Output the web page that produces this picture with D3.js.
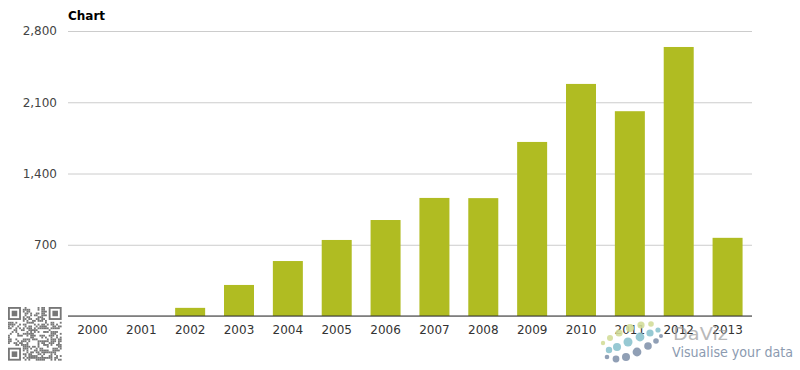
<!DOCTYPE html>
<html>
<head>
<meta charset="utf-8">
<script src="https://cdn.jsdelivr.net/npm/d3@7"></script>
<style>
  body { margin: 0; background: #fff; }
  svg { display: block; }
  svg text { font-family: "DejaVu Sans", sans-serif; }
</style>
</head>
<body>
<svg id="chart" width="800" height="370"></svg>
<script>
const years = ['2000', '2001', '2002', '2003', '2004', '2005', '2006', '2007',
  '2008', '2009', '2010', '2011', '2012', '2013'];
const values = [0, 0, 80, 305, 540, 747, 943, 1160, 1158, 1710, 2280, 2012, 2643, 768];
const yTicks = [0, 700, 1400, 2100, 2800];

const svg = d3.select('#chart');
const margin = { left: 68, right: 48, top: 31, bottom: 54 };
const W = 800, H = 370;

const x = d3.scaleBand()
  .domain(years)
  .range([margin.left, W - margin.right])
  .paddingInner(0.386)
  .paddingOuter(0.193);

const y = d3.scaleLinear()
  .domain([0, 2800])
  .range([H - margin.bottom, margin.top]);

// grid + y labels
const yAxis = svg.append('g')
  .attr('transform', `translate(${margin.left},0)`)
  .call(d3.axisLeft(y).tickValues(yTicks).tickSize(-(W - margin.left - margin.right))
    .tickPadding(11).tickFormat(d3.format(',')));
yAxis.attr('font-family', null);
yAxis.select('.domain').remove();
yAxis.selectAll('.tick line').attr('stroke', '#cccccc');
yAxis.selectAll('.tick text').attr('fill', '#444').style('font-size', '12px');
yAxis.selectAll('.tick').filter(d => d === 0).select('text').remove();

// bars
svg.append('g').selectAll('rect')
  .data(years)
  .join('rect')
  .attr('x', d => x(d))
  .attr('width', x.bandwidth())
  .attr('y', (d, i) => y(values[i]))
  .attr('height', (d, i) => y(0) - y(values[i]))
  .attr('fill', '#b0bc22');

// x axis
const xAxis = svg.append('g')
  .attr('transform', `translate(0,${y(0)})`)
  .call(d3.axisBottom(x).tickSize(0).tickPadding(9));
xAxis.attr('font-family', null);
xAxis.select('.domain').attr('stroke', '#333').attr('stroke-width', 1.2)
  .attr('d', `M${margin.left},0H${W - margin.right}`);
xAxis.selectAll('.tick text').attr('fill', '#333').style('font-size', '12px');

// title
svg.append('text')
  .attr('x', margin.left).attr('y', 20)
  .attr('font-weight', 'bold').attr('font-size', '12px').attr('fill', '#000')
  .text('Chart');

// QR-like decoration
const qr = svg.append('g').attr('transform', 'translate(8,307)');
const cells = 29, cs = 1.85;
let seed = 7;
function hash() { seed = (seed * 1103515245 + 12345) & 0x7fffffff; return seed / 0x7fffffff; }
for (let r = 0; r < cells; r++) {
  for (let c = 0; c < cells; c++) {
    const inFinder = (r < 8 && c < 8) || (r < 8 && c >= cells - 8) || (r >= cells - 8 && c < 8);
    if (inFinder) continue;
    if (hash() < 0.5) {
      qr.append('rect').attr('x', c * cs).attr('y', r * cs).attr('width', cs).attr('height', cs).attr('fill', '#777');
    }
  }
}
[[0, 0], [cells - 7, 0], [0, cells - 7]].forEach(([cx, cy]) => {
  qr.append('rect').attr('x', cx * cs + cs / 2).attr('y', cy * cs + cs / 2).attr('width', 6 * cs).attr('height', 6 * cs)
    .attr('fill', 'none').attr('stroke', '#777').attr('stroke-width', cs);
  qr.append('rect').attr('x', (cx + 2) * cs).attr('y', (cy + 2) * cs).attr('width', 3 * cs).attr('height', 3 * cs).attr('fill', '#777');
});

// DaViz logo
const logo = svg.append('g').attr('opacity', 0.9);
const dots = [
  [603, 343, 2.2, '#d3dd9a'], [610, 338, 3, '#d3dd9a'], [619, 333, 3.6, '#d3dd9a'], [630, 328, 4, '#d3dd9a'],
  [641, 325, 3.6, '#d3dd9a'], [651, 324, 2.8, '#d3dd9a'],
  [609, 350, 3.2, '#8cc4cf'], [617, 347, 4, '#8cc4cf'], [628, 342, 4.5, '#8cc4cf'], [640, 337, 4.4, '#8cc4cf'],
  [650, 333, 3.6, '#8cc4cf'], [658, 330, 2.6, '#8cc4cf'],
  [607, 357, 2.3, '#8595ad'], [616, 359, 3.4, '#8595ad'], [626, 357, 4, '#8595ad'], [637, 352, 4.4, '#8595ad'],
  [648, 346, 3.8, '#8595ad'], [656, 341, 2.8, '#8595ad'], [661, 336, 2, '#8595ad']
];
logo.selectAll('circle').data(dots).join('circle')
  .attr('cx', d => d[0]).attr('cy', d => d[1]).attr('r', d => d[2]).attr('fill', d => d[3]);
logo.append('text').attr('x', 673).attr('y', 340).attr('font-size', '17px').attr('fill', '#999')
  .attr('textLength', 55).attr('lengthAdjust', 'spacingAndGlyphs')
  .attr('opacity', 0.75).text('DaViz');
logo.append('text').attr('x', 672).attr('y', 357).attr('font-size', '14px').attr('fill', '#8090a8')
  .attr('textLength', 121).attr('lengthAdjust', 'spacingAndGlyphs')
  .text('Visualise your data');
</script>
</body>
</html>
